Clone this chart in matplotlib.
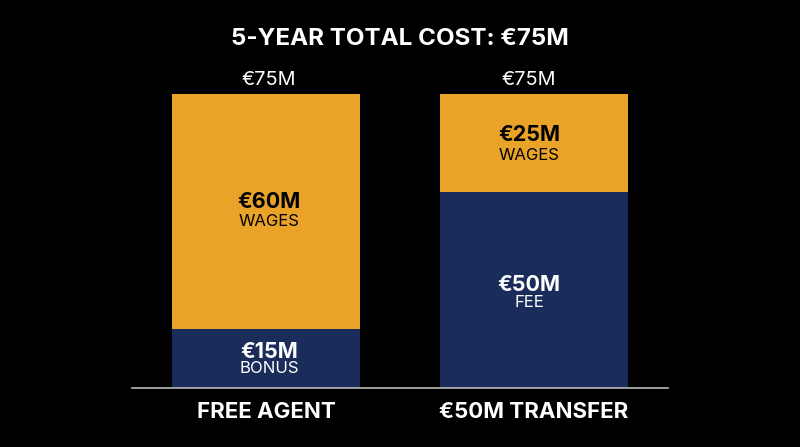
import matplotlib
matplotlib.use('Agg')
from matplotlib import pyplot as plt

plt.rcParams['font.family'] = ['Inter', 'Open Sans', 'DejaVu Sans']

categories = ['FREE AGENT', '€50M TRANSFER']
lower_vals = [15, 50]
upper_vals = [60, 25]
lower_names = ['BONUS', 'FEE']
upper_names = ['WAGES', 'WAGES']
totals = [75, 75]
title = '5-YEAR TOTAL COST: €75M'

navy = '#1a2d5a'
orange = '#e8a328'

fig = plt.figure(figsize=(8, 4.47), dpi=100, facecolor='black')
# axes span from x=132 to 668 px, baseline at y=388, top of the bars at y=94
ax = fig.add_axes([132/800, (447-388)/447, 536/800, (388-94)/447])
ax.set_facecolor('black')

x = [0, 1]
w = 188/268
ax.bar(x, lower_vals, width=w, color=navy)
ax.bar(x, upper_vals, width=w, bottom=lower_vals, color=orange)
ax.set_xlim(-0.5, 1.5)
ax.set_ylim(0, 75)

for s in ['top', 'left', 'right']:
    ax.spines[s].set_visible(False)
ax.spines['bottom'].set_color('#bbbbbb')
ax.spines['bottom'].set_linewidth(1.2)
ax.set_yticks([])
ax.set_xticks(x)
ax.set_xticklabels(categories, color='white', fontsize=16, fontweight='bold')
ax.tick_params(axis='x', length=0, pad=10)

# the labels in the picture are not quite centred on the bars (points)
shift_x = [2, -3.5]
lower_off = [(5, -7), (3.5, -9)]
upper_off = [(7, -7), (5.5, -9)]


def label(i, y, txt, col, size, weight, off):
    ax.annotate(txt, (i, y), xytext=(shift_x[i], off), textcoords='offset points',
                ha='center', va='center', color=col, fontsize=size, fontweight=weight)


for i in x:
    ax.annotate('€%dM' % totals[i], (i, totals[i]), xytext=(shift_x[i], 10), textcoords='offset points',
                ha='center', va='center', color='white', fontsize=14.3)

    ymid = lower_vals[i] / 2
    label(i, ymid, '€%dM' % lower_vals[i], 'white', 15.5, 'bold', lower_off[i][0])
    label(i, ymid, lower_names[i], 'white', 12, 'normal', lower_off[i][1])

    ymid = lower_vals[i] + upper_vals[i] / 2
    label(i, ymid, '€%dM' % upper_vals[i], 'black', 15.5, 'bold', upper_off[i][0])
    label(i, ymid, upper_names[i], 'black', 12, 'normal', upper_off[i][1])

fig.text(0.5, (447-39)/447, title, ha='center', va='center', color='white', fontsize=17.4, fontweight='bold')

fig.savefig('out.png', dpi=100, facecolor='black')
